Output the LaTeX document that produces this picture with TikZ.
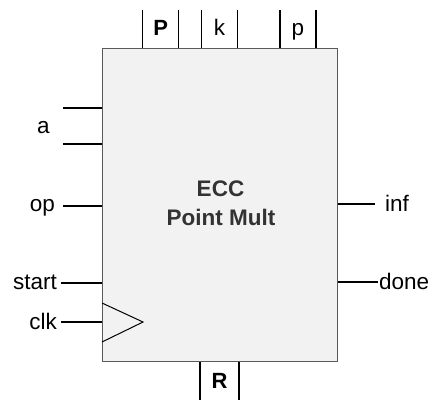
\documentclass[tikz,border=0pt]{standalone}
\usepackage{fontspec}
\setmainfont{Liberation Sans}
\begin{document}
\begin{tikzpicture}[x=1pt,y=-1pt,
  lbl/.style={font=\fontsize{22.5}{26}\selectfont, inner sep=0pt, text=black},
  blbl/.style={font=\fontsize{22}{26}\selectfont\bfseries, inner sep=0pt, text=black},
  ttl/.style={font=\fontsize{22.5}{26}\selectfont\bfseries, text=black!80, inner sep=0pt, anchor=base},
  pin/.style={line width=1.2pt, black},
  blk/.style={draw=black!65, fill=black!5, line width=1pt, minimum width=235pt, minimum height=313pt, inner sep=0pt}]
\useasboundingbox (0,0) rectangle (434,400);
\node[blk] (box) at (219.5,204.5) {};
\node[ttl] (title1) at (220.5,196.5) {ECC};
\node[ttl] (title2) at (221,225) {Point Mult};
% left inputs
\coordinate (a1) at (63,108);
\coordinate (a2) at (63,144);
\node[lbl, anchor=base] (aL) at (43.5,133) {a};
\draw[pin] (a1) -- (box.west |- a1);
\draw[pin] (a2) -- (box.west |- a2);
\node[lbl, anchor=base east] (opL) at (55,211) {op};
\coordinate (opS) at (63,206);
\draw[pin] (opS) -- (box.west |- opS);
\node[lbl, anchor=base east] (startL) at (57,289) {start};
\coordinate (stS) at (61,283);
\draw[pin] (stS) -- (box.west |- stS);
\node[lbl, anchor=base east] (clkL) at (57,329) {clk};
\coordinate (ckS) at (61,322);
\draw[pin] (ckS) -- (box.west |- ckS);
\coordinate (t1) at (102,303);
\coordinate (t2) at (143,322);
\coordinate (t3) at (102,342);
\draw[line width=1pt] (t1) -- (t2) -- (t3);
% right outputs
\node[lbl, anchor=base west] (infL) at (385,211.5) {inf};
\coordinate (infE) at (375,204);
\draw[pin] (box.east |- infE) -- (infE);
\node[lbl, anchor=base west] (doneL) at (379,289) {done};
\coordinate (doneE) at (378,282);
\draw[pin] (box.east |- doneE) -- (doneE);
% top pins
\foreach \n/\x in {p1/142.7,p2/178.7,p3/201.7,p4/237.3,p5/280,p6/316}{
  \coordinate (\n) at (\x,10);
  \draw[pin] (\n) -- (box.north -| \n);
}
\node[blbl, anchor=base] (PL) at (160.7,35) {P};
\node[lbl, anchor=base] (kL) at (219.5,35.5) {k};
\node[lbl, anchor=base] (pL) at (298,35.5) {p};
% bottom pins
\foreach \n/\x in {b1/200,b2/239}{
  \coordinate (\n) at (\x,400);
  \draw[pin] (box.south -| \n) -- (\n);
}
\node[blbl, anchor=base] (RL) at (219.5,388) {R};
\end{tikzpicture}
\end{document}
